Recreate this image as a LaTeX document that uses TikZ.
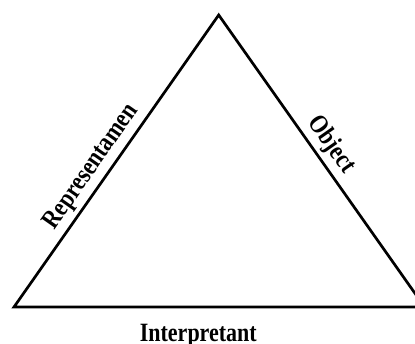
\documentclass[tikz,border=0pt]{standalone}
\usepackage{fontspec}
\setmainfont{Liberation Serif}
\usetikzlibrary{calc}
\newcommand{\tallbf}[1]{\scalebox{1}[1.2]{#1}}
\begin{document}
\begin{tikzpicture}[x=1pt,y=-1pt,
  edge/.style={line width=2.7pt, line join=miter},
  lbl/.style={font=\bfseries\fontsize{22}{26}\selectfont, inner sep=0pt, anchor=base}]
\useasboundingbox (0,0) rectangle (415,343);
\clip (0,0) rectangle (415,343);
\coordinate (A) at (14,307);
\coordinate (B) at (218.7,15);
\coordinate (C) at (424.6,307);
\draw[edge] (A) -- (B) -- (C) -- cycle;
\coordinate (PR) at ($(A)!0.447!(B)$);
\coordinate (PO) at ($(B)!0.478!(C)$);
\node[lbl, rotate=55] (rep) at ($(PR)!11pt!90:(B)$) {\tallbf{Representamen}};
\node[lbl, rotate=-55] (obj) at ($(PO)!11pt!90:(C)$) {\tallbf{Object}};
\node[lbl] (int) at (198.3,341) {\tallbf{Interpretant}};
\end{tikzpicture}
\end{document}
